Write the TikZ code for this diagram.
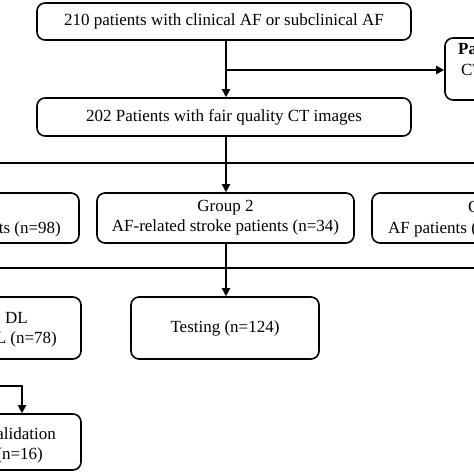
\documentclass[tikz,border=0pt]{standalone}
\usepackage{fontspec}
\setmainfont{Liberation Serif}
\usetikzlibrary{arrows.meta,calc}
\begin{document}
\begin{tikzpicture}[x=1pt,y=-1pt,
  box/.style={draw,line width=1.6pt,rounded corners=8pt,inner sep=0pt,align=center,font=\fontsize{17}{20}\selectfont},
  txt/.style={inner sep=0pt,font=\fontsize{17}{20}\selectfont},
  conn/.style={line width=2pt},
  arr/.style={line width=2pt,-{Triangle[length=8pt,width=8pt]}},
  thickarr/.style={line width=2.8pt,-{Triangle[length=8pt,width=8pt]}},
]
\useasboundingbox (0,0) rectangle (474,474);
\clip (0,0) rectangle (474,474);
% boxes
\node[box,minimum width=374pt,minimum height=37pt] (b1) at (224,21.5) {210 patients with clinical AF or subclinical AF};
\node[box,minimum width=374pt,minimum height=38pt] (b2) at (224,117) {202 Patients with fair quality CT images};
\node[box,minimum width=150pt,minimum height=62pt] (rb) at (520,69) {};
\node[txt,anchor=west,font=\fontsize{17}{20}\selectfont\bfseries] (rbt1) at (458,49) {Patients};
\node[txt,anchor=west] (rbt2) at (461,70) {CT};
\node[box,minimum width=257pt,minimum height=50pt] (g1) at (-49.5,218) {};
\node[txt,anchor=east] (g1t) at (61,229) {patients (n=98)};
\node[box,minimum width=257pt,minimum height=50pt] (g2) at (225.5,218) {Group 2\\AF-related stroke patients (n=34)};
\node[box,minimum width=257pt,minimum height=50pt] (g3) at (500.5,218) {};
\node[txt,anchor=west] (g3t1) at (468,209) {Group 3};
\node[txt,anchor=west] (g3t2) at (388,229) {AF patients (};
\node[box,minimum width=188pt,minimum height=62pt] (dl) at (-13,328) {};
\node[txt,anchor=east] (dlt1) at (28,318) {DL};
\node[txt,anchor=east] (dlt2) at (57,339) {L (n=78)};
\node[box,minimum width=188pt,minimum height=62pt] (te) at (225,328) {Testing (n=124)};
\node[box,minimum width=188pt,minimum height=56pt] (va) at (-13,442) {};
\node[txt,anchor=east] (vat1) at (56,434) {Validation};
\node[txt,anchor=east] (vat2) at (43,455) {(n=16)};
% coordinates
\coordinate (j1) at (226,70);
\coordinate (h1l) at (-5,163);
\coordinate (h1r) at (479,163);
\coordinate (h1m) at (226,163);
\coordinate (h2l) at (-5,268);
\coordinate (h2r) at (479,268);
\coordinate (h2m) at (226,268);
\coordinate (vl) at (-5,386);
\coordinate (vk) at (22,386);
% connectors
\draw[arr] (b1.south -| j1) -- (b2.north -| j1);
\draw[arr] (j1) -- (j1 -| rb.west);
\draw[conn] (b2.south -| h1m) -- (h1m);
\draw[conn] (h1l) -- (h1r);
\draw[arr] (h1m) -- (g2.north -| h1m);
\draw[conn] (g2.south -| h2m) -- (h2m);
\draw[conn] (h2l) -- (h2r);
\draw[arr] (h2m) -- (te.north -| h2m);
\draw[thickarr] (vl) -- (vk) -- (vk |- va.north);
\end{tikzpicture}
\end{document}
